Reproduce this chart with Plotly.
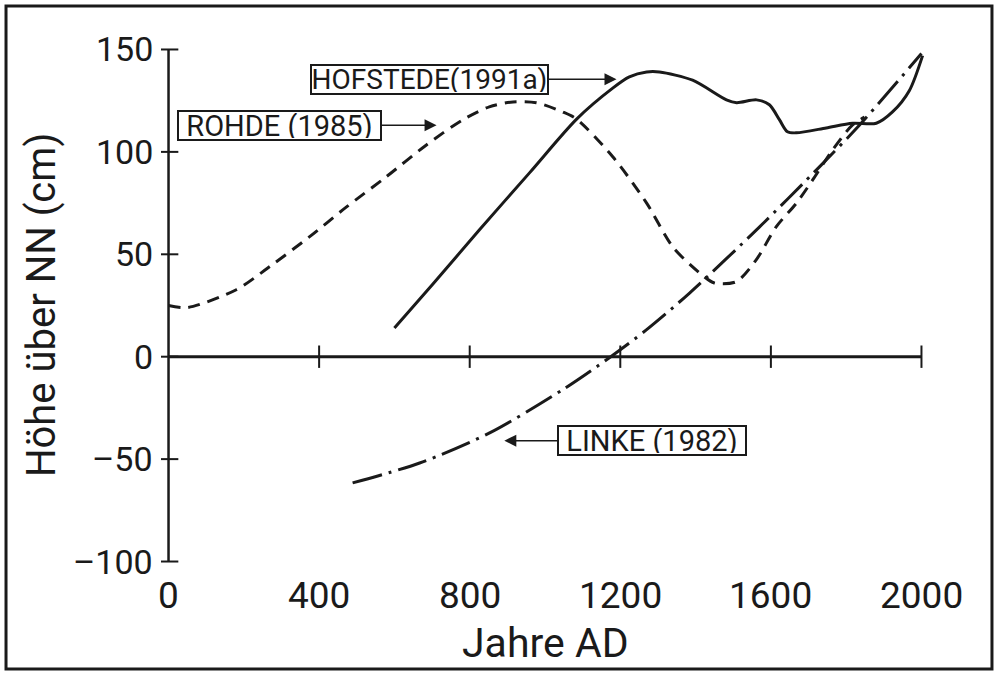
import plotly.graph_objects as go

# ---- data ----
hofstede_x = [600, 700, 826, 960, 1084, 1179, 1224, 1270, 1304, 1392, 1482, 1509, 1562, 1596, 1623, 1644, 1668, 1747, 1817, 1880, 1923, 1968, 2003]
hofstede_y = [14, 35, 62, 90, 116, 131, 136.6, 139, 139, 135, 125.4, 124, 125.4, 123, 115.6, 109.8, 109.3, 111.7, 114, 114, 119.5, 130, 147]

rohde_x = [0, 50, 180, 268, 374, 472, 578, 685, 781, 852, 915, 977, 1047, 1084, 1180, 1270, 1339, 1410, 1450, 1508, 1561, 1614, 1668, 1711, 1764, 1817, 1849]
rohde_y = [25, 24, 32.7, 43.9, 58.5, 73, 87.8, 103.4, 115.6, 122, 124.4, 124, 119.5, 116, 97.6, 75, 53.7, 41, 36, 36.6, 47.3, 63.4, 75, 86.3, 101, 113.2, 117]

linke_x = [489, 667, 853, 1047, 1171, 1270, 1384, 1570, 1729, 1835, 2000]
linke_y = [-61.6, -51.9, -37.2, -16.1, -0.5, 13.2, 31.1, 63.4, 92.7, 113, 148]

x_ticks = [0, 400, 800, 1200, 1600, 2000]
y_ticks = [150, 100, 50, 0, -50, -100]
y_tick_labels = ["150", "100", "50", "0", "–50", "–100"]

x_title = "Jahre AD"
y_title = "Höhe über NN (cm)"

labels = ["HOFSTEDE(1991a)", "ROHDE\u00a0(1985)", "LINKE\u00a0(1982)"]

FONT = "Roboto, 'DejaVu Sans', sans-serif"
INK = "#1a1a1a"

fig = go.Figure()

# axes drawn through the data scales
fig.add_trace(go.Scatter(x=[0, 0], y=[min(y_ticks), max(y_ticks)], mode="lines",
                         line=dict(color=INK, width=2.5), hoverinfo="skip", showlegend=False))
fig.add_trace(go.Scatter(x=[min(x_ticks), max(x_ticks)], y=[0, 0], mode="lines",
                         line=dict(color=INK, width=3), hoverinfo="skip", showlegend=False))
fig.add_trace(go.Scatter(x=[0] * len(y_ticks), y=y_ticks, mode="markers",
                         marker=dict(symbol="line-ew", size=14, line=dict(color=INK, width=2)),
                         hoverinfo="skip", showlegend=False))
fig.add_trace(go.Scatter(x=x_ticks[1:], y=[0] * (len(x_ticks) - 1), mode="markers",
                         marker=dict(symbol="line-ns", size=16, line=dict(color=INK, width=2)),
                         hoverinfo="skip", showlegend=False))

# curves
fig.add_trace(go.Scatter(x=hofstede_x, y=hofstede_y, mode="lines", name="HOFSTEDE (1991a)",
                         line=dict(color=INK, width=3, shape="spline", smoothing=0.8),
                         showlegend=False))
fig.add_trace(go.Scatter(x=rohde_x, y=rohde_y, mode="lines", name="ROHDE (1985)",
                         line=dict(color=INK, width=3, dash="12px,8px", shape="spline", smoothing=0.8),
                         showlegend=False))
fig.add_trace(go.Scatter(x=linke_x, y=linke_y, mode="lines", name="LINKE (1982)",
                         line=dict(color=INK, width=3, dash="30px,7px,3px,7px", shape="spline", smoothing=0.8),
                         showlegend=False))

ann = []
# y tick labels
for v, t in zip(y_ticks, y_tick_labels):
    ann.append(dict(x=0, y=v, xref="x", yref="y", text=t, showarrow=False,
                    xanchor="right", yanchor="middle", xshift=-14,
                    font=dict(family=FONT, size=34, color=INK)))
# x tick labels
for v in x_ticks:
    ann.append(dict(x=v, y=min(y_ticks), xref="x", yref="y", text=str(v), showarrow=False,
                    xanchor="center", yanchor="middle", yshift=-34,
                    font=dict(family=FONT, size=37, color=INK)))
# axis titles
ann.append(dict(x=1000, y=min(y_ticks), xref="x", yref="y", text=x_title, showarrow=False,
                xanchor="center", yanchor="middle", yshift=-81,
                font=dict(family=FONT, size=41, color=INK)))
ann.append(dict(x=0, y=25, xref="x", yref="y", text=y_title, showarrow=False, textangle=-90,
                xanchor="center", yanchor="middle", xshift=-127,
                font=dict(family=FONT, size=40, color=INK)))

# boxed series labels with arrows
box_specs = [
    # text, tip x, tip y, text center x, width, font size
    (labels[0], 1190, 135.5, 694, 233, 28),
    (labels[1], 712, 113, 296, 199, 29),
    (labels[2], 892, -41, 1285, 184, 29),
]
for text, tx, ty, cx, w, fs in box_specs:
    ann.append(dict(x=tx, y=ty, xref="x", yref="y", ax=cx, ay=ty, axref="x", ayref="y",
                    text=text, showarrow=True, arrowhead=2, arrowsize=1.6, arrowwidth=1.5,
                    arrowcolor=INK, standoff=0, width=w, height=25, align="center",
                    bordercolor=INK, borderwidth=2, borderpad=1, bgcolor="white",
                    font=dict(family=FONT, size=fs, color=INK)))

fig.update_layout(
    width=995, height=679,
    margin=dict(l=161, r=66, t=29, b=97),
    paper_bgcolor="white", plot_bgcolor="white",
    xaxis=dict(range=[-20, 2020], visible=False, fixedrange=True),
    yaxis=dict(range=[-110, 160], visible=False, fixedrange=True),
    annotations=ann,
    shapes=[dict(type="rect", xref="paper", yref="paper",
                 x0=-0.2018, x1=1.082, y0=-0.1573, y1=1.0416,
                 line=dict(color=INK, width=3), layer="below")],
    showlegend=False,
)

fig.write_html("out.html", config={"displayModeBar": False},
               post_script="document.body.style.margin='0px';document.body.style.overflow='hidden';")
